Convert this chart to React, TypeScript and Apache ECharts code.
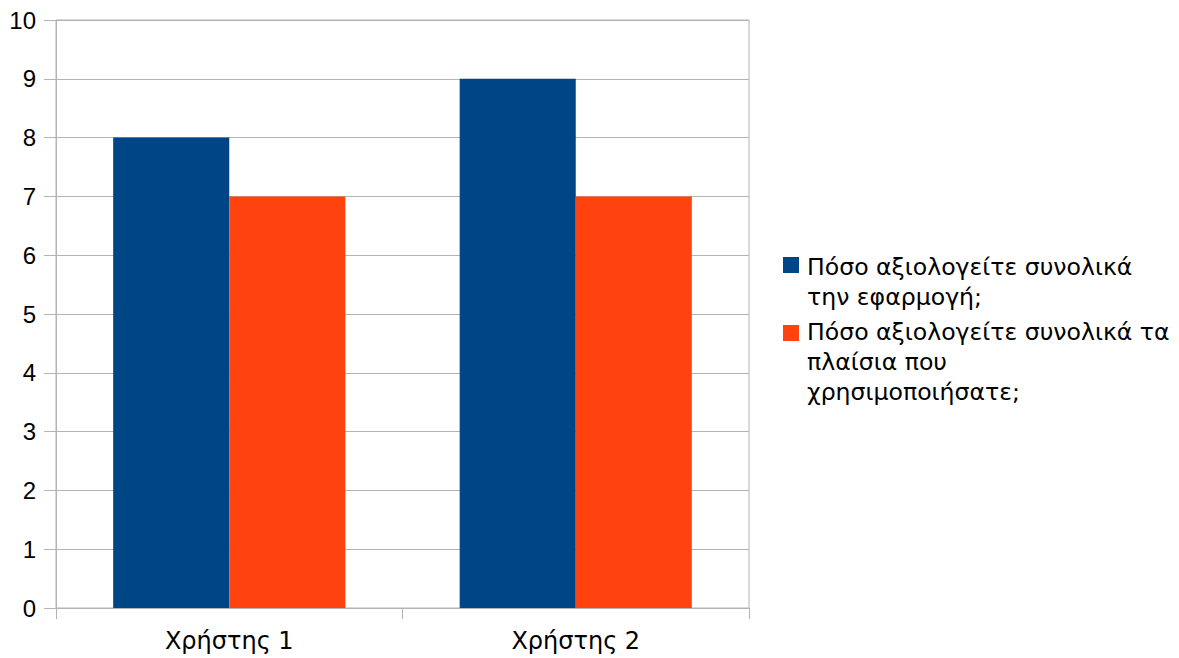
import React, { useEffect, useRef } from "react";
import * as echarts from "echarts";

const categories = ["Χρήστης 1", "Χρήστης 2"];
const seriesNames = [
  "Πόσο αξιολογείτε συνολικά την εφαρμογή;",
  "Πόσο αξιολογείτε συνολικά τα πλαίσια που χρησιμοποιήσατε;",
];
// Wrapped key lines for each series
const legendLines = [
  ["Πόσο αξιολογείτε συνολικά", "την εφαρμογή;"],
  ["Πόσο αξιολογείτε συνολικά τα", "πλαίσια που", "χρησιμοποιήσατε;"],
];
const appRatings = [8, 9];
const frameRatings = [7, 7];
const colors = ["#004586", "#ff420e"];

const TEXT_FONT = "'DejaVu Sans', sans-serif";
const NUM_FONT = "'Liberation Sans', Arial, sans-serif";
const GRID_COLOR = "#b3b3b3";
const KEY_LH = 30;

export default function App() {
  const ref = useRef<HTMLDivElement>(null);

  useEffect(() => {
    if (!ref.current) return;
    const chart = echarts.init(ref.current, undefined, { renderer: "svg" });

    // Key entries on the right: square swatch beside the first text line
    const keyTextTop = [252, 317];
    const keySwatchMid = [265, 333];
    const keyGraphics = seriesNames.map((name, i) => ({
      type: "group",
      left: 783,
      top: keyTextTop[i],
      children: [
        {
          type: "rect",
          shape: { x: 0, y: keySwatchMid[i] - keyTextTop[i] - 8, width: 16, height: 16 },
          style: { fill: colors[i] },
        },
        {
          type: "text",
          x: 24,
          y: 0,
          style: {
            text: legendLines[i].join("\n"),
            font: `23.6px ${TEXT_FONT}`,
            lineHeight: KEY_LH,
            fill: "#000",
            verticalAlign: "top",
          },
        },
      ],
    }));

    chart.setOption({
      animation: false,
      color: colors,
      grid: {
        left: 56,
        top: 20,
        right: 430,
        bottom: 50,
        show: true,
        borderColor: GRID_COLOR,
        borderWidth: 1,
        containLabel: false,
      },
      graphic: keyGraphics,
      xAxis: {
        type: "category",
        data: categories,
        axisLine: { show: true, lineStyle: { color: GRID_COLOR, width: 1 } },
        axisTick: { show: true, length: 11, lineStyle: { color: GRID_COLOR } },
        axisLabel: {
          fontFamily: TEXT_FONT,
          fontSize: 24,
          color: "#000",
          margin: 21,
        },
      },
      yAxis: {
        type: "value",
        min: 0,
        max: 10,
        interval: 1,
        axisLine: { show: true, lineStyle: { color: GRID_COLOR, width: 1 } },
        axisTick: { show: true, length: 12, lineStyle: { color: GRID_COLOR } },
        splitLine: { show: true, lineStyle: { color: GRID_COLOR, width: 1 } },
        axisLabel: {
          fontFamily: NUM_FONT,
          fontSize: 24,
          color: "#000",
          margin: 20,
        },
      },
      series: [
        {
          name: seriesNames[0],
          type: "bar",
          data: appRatings,
          barGap: "0%",
          barCategoryGap: "33%",
        },
        {
          name: seriesNames[1],
          type: "bar",
          data: frameRatings,
          barGap: "0%",
          barCategoryGap: "33%",
        },
      ],
    });

    return () => chart.dispose();
  }, []);

  return (
    <div
      ref={ref}
      style={{
        position: "absolute",
        left: 0,
        top: 0,
        width: 1179,
        height: 658,
        background: "#fff",
      }}
    />
  );
}
